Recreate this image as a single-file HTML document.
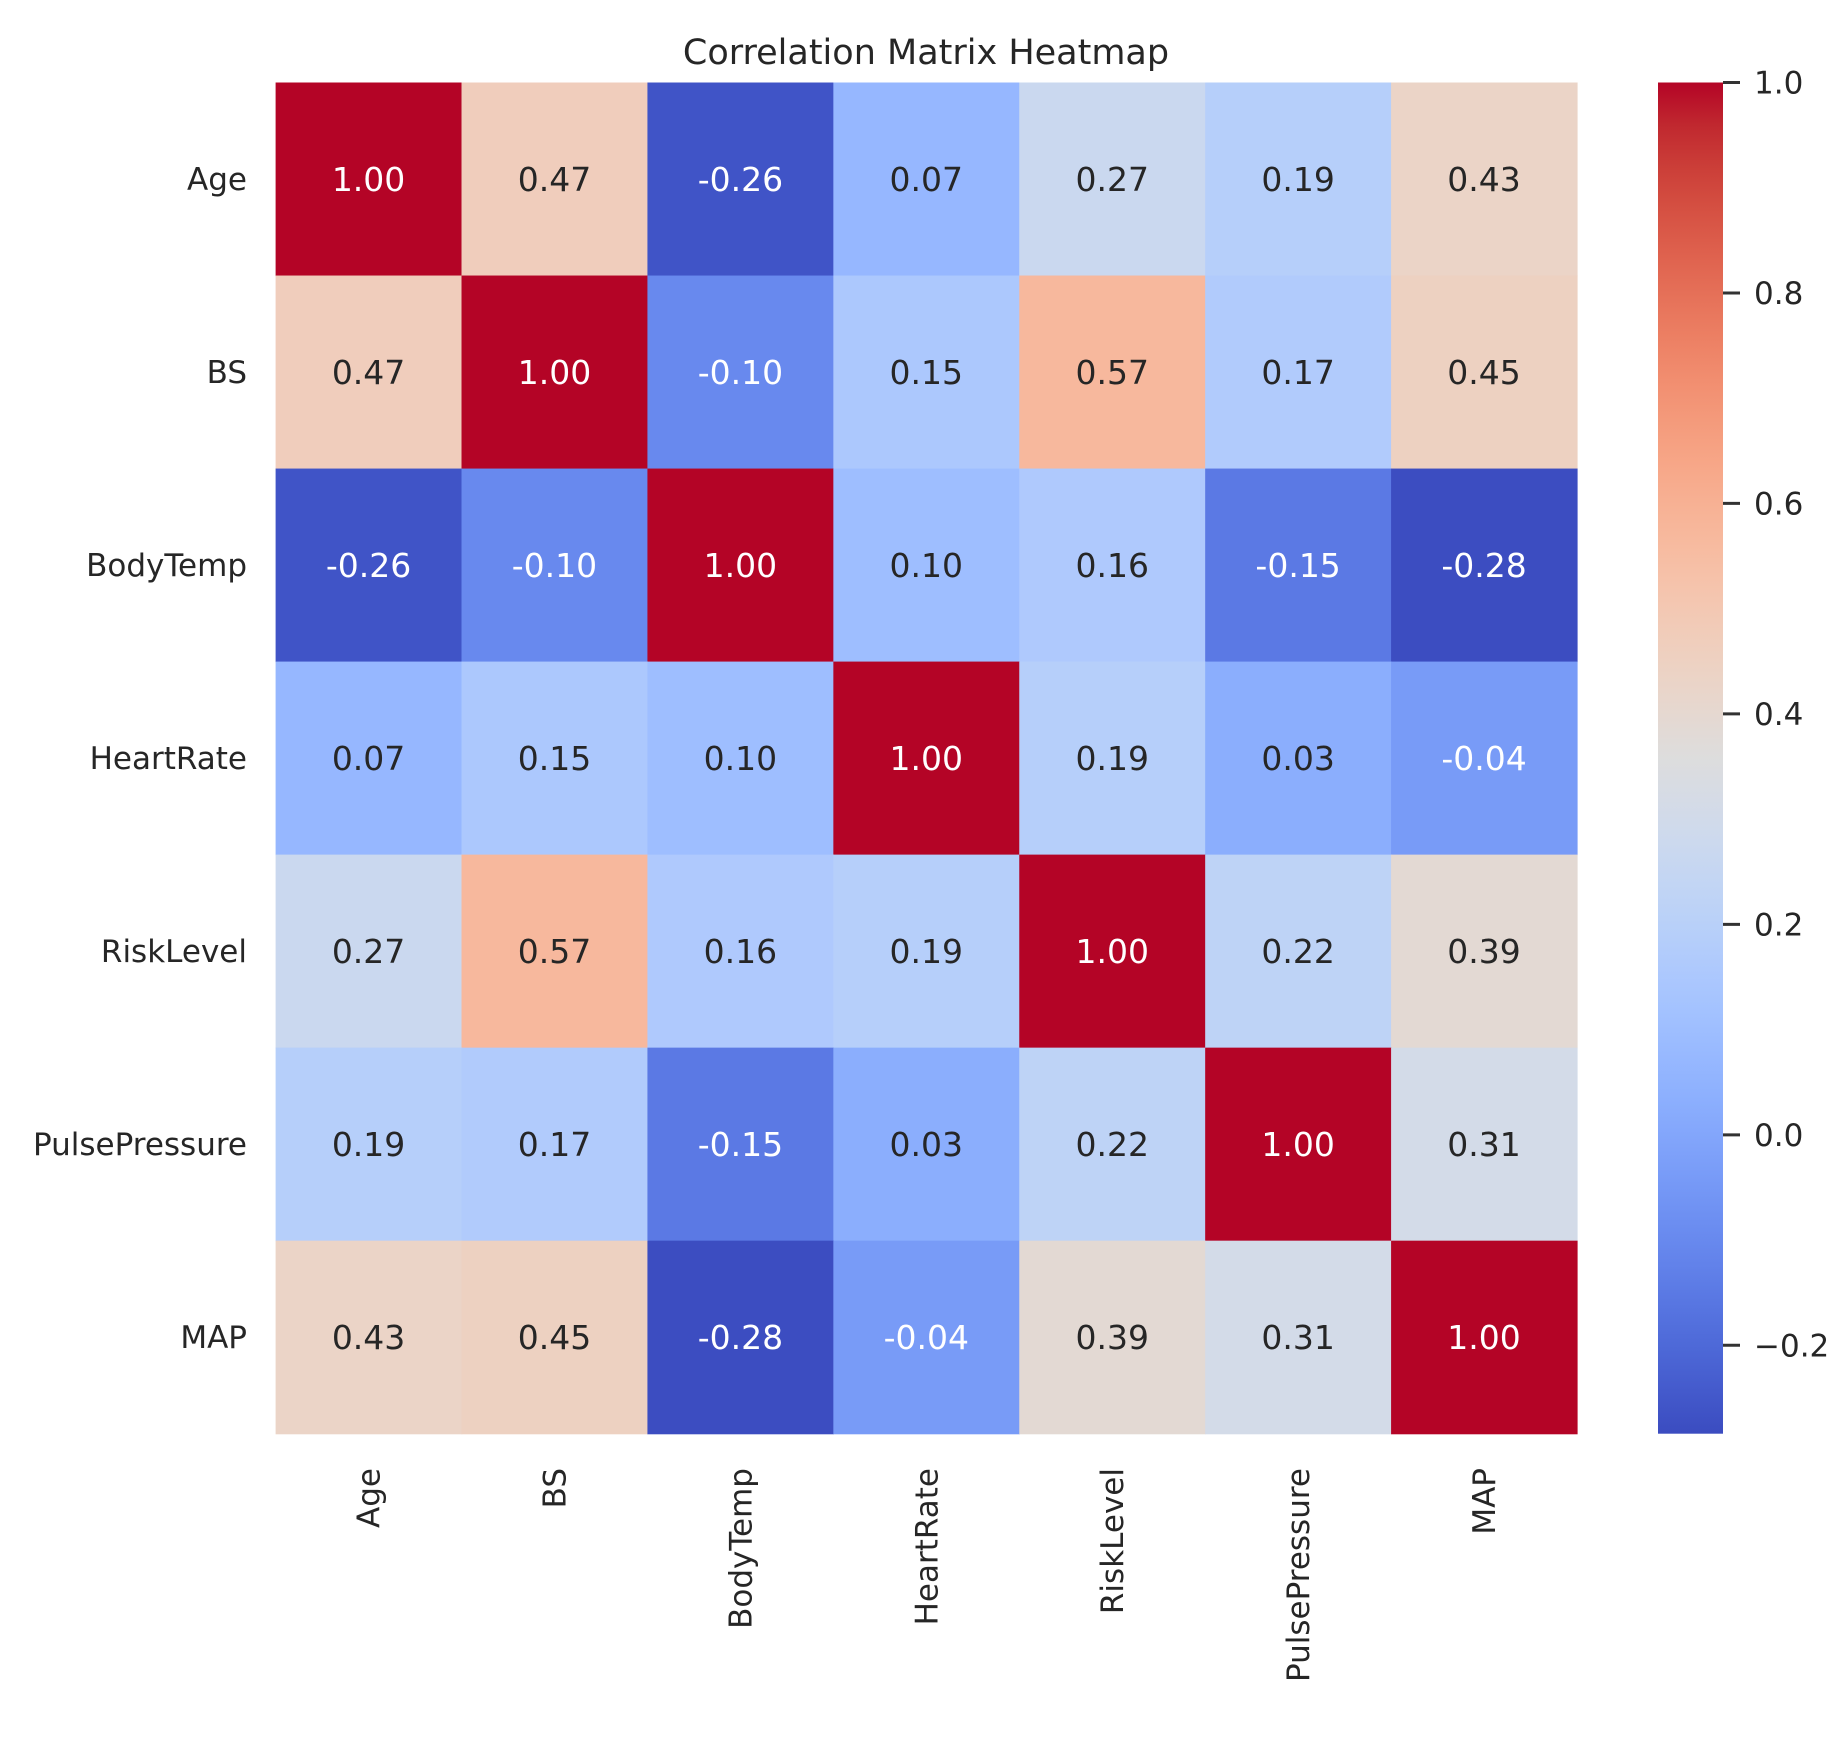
<!DOCTYPE html>
<html><head><meta charset="utf-8"><style>
body{margin:0;background:#fff;}
svg text{font-family:"DejaVu Sans","Liberation Sans",sans-serif;}
</style></head><body>
<svg id="chart" width="1847" height="1735" xmlns="http://www.w3.org/2000/svg">
<rect width="1847" height="1735" fill="#fff"/>
<text x="926" y="64" text-anchor="middle" font-size="35" fill="#262626">Correlation Matrix Heatmap</text>
<g id="cells"></g><g id="ylabels"></g><g id="xlabels"></g><g id="cbar"></g>
</svg>
<script>
const labels = ["Age","BS","BodyTemp","HeartRate","RiskLevel","PulsePressure","MAP"];
const row0 = [1.00,0.47,-0.26,0.07,0.27,0.19,0.43];
const row1 = [0.47,1.00,-0.10,0.15,0.57,0.17,0.45];
const row2 = [-0.26,-0.10,1.00,0.10,0.16,-0.15,-0.28];
const row3 = [0.07,0.15,0.10,1.00,0.19,0.03,-0.04];
const row4 = [0.27,0.57,0.16,0.19,1.00,0.22,0.39];
const row5 = [0.19,0.17,-0.15,0.03,0.22,1.00,0.31];
const row6 = [0.43,0.45,-0.28,-0.04,0.39,0.31,1.00];
const matrix = [row0,row1,row2,row3,row4,row5,row6];
const cbTicks = [1.0,0.8,0.6,0.4,0.2,0.0,-0.2];
const cbTickLabels = ["1.0","0.8","0.6","0.4","0.2","0.0","\u22120.2"];
const vmin = -0.284, vmax = 1.0;

const NS="http://www.w3.org/2000/svg";
const X0=275.6, Y0=82.5, W=1301.4, H=1351.2;
const cw=W/labels.length, ch=H/labels.length;
const xOf=i=>X0+i*cw, yOf=j=>Y0+j*ch;
const CB_X=1658, CB_W=65;
const cbY=v=>Y0+(vmax-v)/(vmax-vmin)*H;

const cw_tab=[[59,76,192],[68,90,204],[77,104,215],[87,117,225],[98,130,234],[108,142,241],[119,154,247],[130,165,251],[141,176,254],[152,185,255],[163,194,255],[174,201,253],[184,208,249],[194,213,244],[204,217,238],[213,219,230],[221,221,221],[229,216,209],[236,211,197],[241,204,185],[245,196,173],[247,187,160],[247,177,148],[247,166,135],[244,154,123],[241,141,111],[236,127,99],[229,112,88],[222,96,77],[213,80,66],[203,62,56],[192,40,47],[180,4,38]];
function cmap(v){let t=(v-vmin)/(vmax-vmin);t=Math.max(0,Math.min(1,t));const p=t*32,i=Math.min(31,Math.floor(p)),f=p-i;
const a=cw_tab[i],b=cw_tab[i+1];return a.map((c,k)=>Math.round(c+(b[k]-c)*f));}
function mk(tag,attrs,parent){const e=document.createElementNS(NS,tag);for(const k in attrs)e.setAttribute(k,attrs[k]);parent.appendChild(e);return e;}

const gC=document.getElementById('cells');
matrix.forEach((row,j)=>row.forEach((v,i)=>{
  const c=cmap(v);
  const r=mk('rect',{x:xOf(i),y:yOf(j),width:cw+0.6,height:ch+0.6,fill:`rgb(${c})`},gC);
  
  
  const lum=(0.2126*(c[0]/255)**2.2+0.7152*(c[1]/255)**2.2+0.0722*(c[2]/255)**2.2);
  const t=mk('text',{x:xOf(i)+cw/2,y:yOf(j)+ch/2+12,'text-anchor':'middle','font-size':33,fill:lum<0.408?'#ffffff':'#262626'},gC);
  t.textContent=v.toFixed(2);
  
  
}));
const gY=document.getElementById('ylabels');
labels.forEach((l,j)=>{
  const t=mk('text',{x:247,y:yOf(j)+ch/2+11,'text-anchor':'end','font-size':31,fill:'#262626'},gY);
  t.textContent=l;
  
  
});
const gX=document.getElementById('xlabels');
labels.forEach((l,i)=>{
  const cx=xOf(i)+cw/2+11, cy=1468;
  const t=mk('text',{x:cx,y:cy,'text-anchor':'end','font-size':31,fill:'#262626',transform:`rotate(-90 ${cx} ${cy})`},gX);
  t.textContent=l;
  
  
});
const gB=document.getElementById('cbar');
const defs=mk('defs',{},gB);
const lg=mk('linearGradient',{id:'cbg',x1:0,y1:0,x2:0,y2:1},defs);
for(let k=0;k<=32;k++){const v=vmax-(k/32)*(vmax-vmin);mk('stop',{offset:k/32,'stop-color':`rgb(${cmap(v)})`},lg);}
const cb=mk('rect',{x:CB_X,y:Y0,width:CB_W,height:H,fill:'url(#cbg)'},gB);


cbTicks.forEach((v,k)=>{
  const y=cbY(v);
  const ln=mk('line',{x1:CB_X+CB_W,x2:CB_X+CB_W+17,y1:y,y2:y,stroke:'#333',"stroke-width":3},gB);
  
  
  const t=mk('text',{x:1754,y:y+11,'font-size':31,fill:'#262626'},gB);
  t.textContent=cbTickLabels[k];
  
  
});
</script>
</body></html>
